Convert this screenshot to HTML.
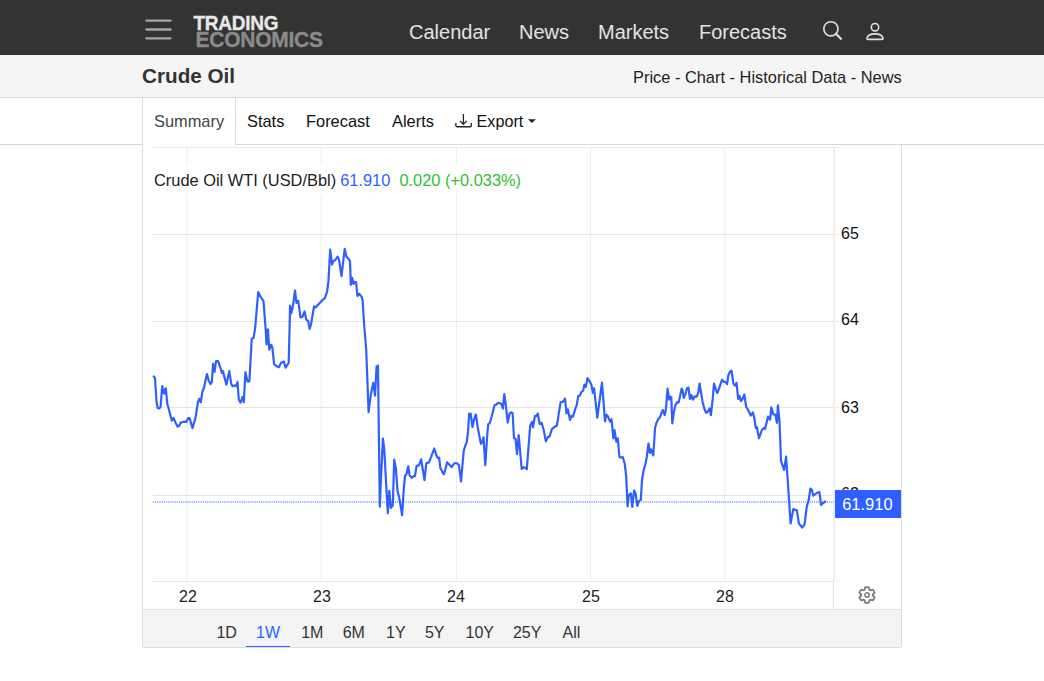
<!DOCTYPE html>
<html><head><meta charset="utf-8"><title>Crude Oil</title>
<style>
*{box-sizing:border-box}
html,body{margin:0;padding:0}
body{width:1044px;height:681px;overflow:hidden;background:#fff;position:relative;font-family:"Liberation Sans",Arial,sans-serif;color:#333}
.a{position:absolute;white-space:nowrap}
#hdr{left:0;top:0;width:1044px;height:55px;background:#333}
.nav{top:20px;font-size:20px;line-height:24px;color:#e3e3e3}
#sub{left:0;top:55px;width:1044px;height:43px;background:#f5f5f5;border-bottom:1px solid #d5d5d5}
.tab{top:111px;font-size:16.4px;line-height:20px;color:#111}
.rng{top:623.4px;font-size:16px;line-height:20px;color:#333}
.yl{left:841px;font-size:16px;line-height:20px;color:#111}
.leg{top:170px;font-size:16.4px;line-height:20px}
.xl{top:587px;font-size:16px;line-height:20px;color:#222}
</style></head><body>
<div class="a" id="hdr"></div>
<svg class="a" style="left:140px;top:14px" width="40" height="30" viewBox="0 0 40 30"><g stroke="#a5a5a5" stroke-width="2.3" stroke-linecap="round"><line x1="6.4" y1="6.6" x2="30.6" y2="6.6"/><line x1="6.4" y1="15.5" x2="30.6" y2="15.5"/><line x1="6.4" y1="24.3" x2="30.6" y2="24.3"/></g></svg>
<div class="a" style="left:193.5px;top:12px;font-size:19px;line-height:20px;font-weight:bold;color:#e8e8e8;-webkit-text-stroke:0.35px #e8e8e8;letter-spacing:-0.25px;transform:scaleY(1.1);transform-origin:0 0">TRADING</div>
<div class="a" style="left:195.5px;top:27px;font-size:21px;line-height:24px;font-weight:bold;color:#8a8a8a;-webkit-text-stroke:0.35px #8a8a8a;letter-spacing:-0.25px;transform:scaleY(1.05);transform-origin:0 0">ECONOMICS</div>
<div class="a nav" style="left:409px">Calendar</div>
<div class="a nav" style="left:519px">News</div>
<div class="a nav" style="left:598px">Markets</div>
<div class="a nav" style="left:699px">Forecasts</div>
<svg class="a" style="left:818px;top:16px" width="30" height="30" viewBox="0 0 30 30"><circle cx="12.9" cy="12.8" r="7.1" fill="none" stroke="#e0e0e0" stroke-width="1.6"/><line x1="17.9" y1="17.8" x2="22.9" y2="22.8" stroke="#e0e0e0" stroke-width="2.2" stroke-linecap="round"/></svg>
<svg class="a" style="left:862px;top:16px" width="26" height="30" viewBox="0 0 26 30"><circle cx="13" cy="11.2" r="3.7" fill="none" stroke="#e0e0e0" stroke-width="1.6"/><path d="M5,22.1 C5.6,19.5 9,17.9 13,17.9 C17,17.9 20.4,19.5 21,22.1 Q21.3,23.4 19.9,23.4 H6.1 Q4.7,23.4 5,22.1 Z" fill="none" stroke="#e0e0e0" stroke-width="1.6" stroke-linejoin="round"/></svg>
<div class="a" id="sub"></div>
<div class="a" style="left:142px;top:64px;font-size:20.7px;line-height:24px;font-weight:bold;color:#333">Crude Oil</div>
<div class="a" style="left:633px;top:66.8px;font-size:16.4px;line-height:20px;color:#222">Price - Chart - Historical Data - News</div>
<!-- tab row borders -->
<div class="a" style="left:0;top:144px;width:143px;height:1px;background:#d8d8d8"></div>
<div class="a" style="left:235px;top:144px;width:809px;height:1px;background:#d8d8d8"></div>
<div class="a" style="left:142px;top:98px;width:1px;height:511px;background:#dcdcdc"></div>
<div class="a" style="left:235px;top:98px;width:1px;height:47px;background:#dcdcdc"></div>
<div class="a" style="left:901px;top:144px;width:1px;height:465px;background:#dcdcdc"></div>
<div class="a tab" style="left:154px;color:#444">Summary</div>
<div class="a tab" style="left:247px">Stats</div>
<div class="a tab" style="left:306px">Forecast</div>
<div class="a tab" style="left:392px">Alerts</div>
<svg class="a" style="left:454px;top:112px" width="20" height="18" viewBox="0 0 20 18"><path d="M9.4,2 V12.3 M6,8.9 L9.4,12.4 L12.8,8.9" fill="none" stroke="#222" stroke-width="1.3"/><path d="M1.85,11.1 V13.4 Q1.85,14.75 3.2,14.75 H16 Q17.35,14.75 17.35,13.4 V11.1" fill="none" stroke="#222" stroke-width="1.3"/></svg>
<div class="a tab" style="left:476.5px;top:111.4px;font-size:16.2px">Export</div>
<svg class="a" style="left:528px;top:119px" width="8" height="5" viewBox="0 0 8 5"><path d="M0,0.2 H7.8 L3.9,3.9 Z" fill="#222"/></svg>
<!-- chart -->
<svg class="a" style="left:0;top:0" width="1044" height="681" viewBox="0 0 1044 681">
<g shape-rendering="crispEdges">
<line x1="153" y1="147.5" x2="839" y2="147.5" stroke="#e9e9e9" stroke-width="1"/>
<g stroke="#e9eff3" stroke-width="1" shape-rendering="auto">
<line x1="187" y1="148" x2="187" y2="581"/>
<line x1="321.1" y1="148" x2="321.1" y2="581"/>
<line x1="456.5" y1="148" x2="456.5" y2="581"/>
<line x1="590.6" y1="148" x2="590.6" y2="581"/>
<line x1="724.8" y1="148" x2="724.8" y2="581"/>
</g>
<g stroke="#e6e6e6" stroke-width="1">
<line x1="153" y1="234.5" x2="839" y2="234.5"/>
<line x1="153" y1="321.5" x2="839" y2="321.5"/>
<line x1="153" y1="407.5" x2="839" y2="407.5"/>
<line x1="153" y1="495.5" x2="839" y2="495.5"/>
<line x1="153" y1="581.5" x2="833" y2="581.5"/>
</g>
<rect x="833" y="147" width="2" height="434" fill="#efefef"/>
<rect x="833" y="581" width="1" height="28" fill="#e2e2e2"/>
<line x1="834" y1="580.5" x2="839" y2="580.5" stroke="#f0f0f0"/>
<g>
</g>
</g>
<line x1="153" y1="502" x2="834" y2="502" stroke="#6f93ff" stroke-width="1.4" stroke-dasharray="1.08,1.08"/>
<path d="M153.7,376.4 L155.0,378.0 L156.6,402.8 L157.7,408.0 L159.2,408.5 L160.6,407.0 L162.2,386.0 L163.2,393.0 L164.3,389.6 L164.8,393.6 L165.9,388.3 L167.2,403.5 L168.5,408.0 L171.8,420.7 L173.5,418.0 L175.8,423.3 L177.7,426.6 L179.0,426.0 L181.0,422.4 L183.0,422.0 L184.6,421.6 L186.3,422.0 L188.3,418.0 L189.6,418.0 L192.5,428.2 L195.6,417.4 L197.8,402.8 L199.1,398.9 L200.9,402.2 L202.2,392.3 L204.2,387.0 L205.2,381.7 L207.0,374.0 L208.8,381.0 L210.5,384.0 L211.8,382.4 L213.1,363.9 L214.5,371.8 L216.0,361.2 L218.0,361.2 L220.0,366.5 L222.0,373.1 L222.9,371.1 L226.4,384.6 L229.3,371.1 L231.2,383.7 L232.6,386.3 L234.5,385.4 L236.1,386.3 L237.5,382.0 L238.8,399.5 L240.5,402.6 L242.5,397.0 L243.8,402.2 L245.4,372.2 L247.5,381.4 L249.4,381.3 L251.7,339.0 L253.5,338.1 L255.2,327.6 L258.2,292.0 L260.5,296.7 L263.5,301.1 L265.8,331.1 L266.5,344.3 L267.9,329.3 L269.3,349.6 L271.1,344.8 L272.3,347.0 L274.1,364.2 L276.7,366.3 L278.8,367.2 L281.1,362.8 L283.8,361.4 L285.5,367.6 L288.7,362.8 L290.1,305.6 L291.2,313.5 L292.9,306.1 L295.0,290.6 L296.5,302.9 L298.2,300.8 L300.5,317.4 L302.3,317.0 L304.6,311.4 L306.3,319.6 L308.1,320.9 L309.7,329.0 L311.1,323.7 L314.1,306.4 L315.8,307.3 L319.0,303.8 L322.6,299.9 L324.9,298.1 L327.0,292.0 L328.5,280.5 L330.2,249.7 L332.0,264.7 L333.2,261.1 L335.0,260.3 L337.6,256.7 L339.0,259.4 L341.5,276.1 L344.7,248.8 L346.4,256.7 L348.2,258.5 L350.0,261.1 L350.8,284.9 L352.1,277.9 L353.5,284.0 L354.5,281.9 L356.1,282.3 L357.4,296.0 L359.1,293.7 L361.4,296.4 L362.6,299.9 L364.0,322.8 L366.2,349.3 L368.6,412.2 L371.0,393.4 L373.3,382.8 L375.0,395.7 L376.6,366.4 L378.0,365.7 L379.8,506.6 L380.9,480.2 L382.9,438.6 L384.2,448.5 L385.8,477.6 L387.8,513.2 L389.3,490.8 L390.9,507.9 L392.8,505.3 L394.2,459.7 L395.9,468.3 L397.5,490.8 L399.4,498.7 L402.1,515.2 L403.8,488.1 L405.1,475.6 L406.4,474.3 L408.3,466.3 L409.6,475.6 L411.7,477.8 L413.6,476.2 L414.9,476.2 L416.6,465.9 L418.9,465.4 L421.2,459.3 L422.8,469.6 L424.5,480.2 L426.3,463.3 L428.9,462.4 L431.1,457.1 L434.2,448.5 L436.4,455.1 L437.4,457.7 L439.1,457.7 L440.4,468.3 L443.7,474.3 L445.0,471.0 L447.0,462.4 L449.0,464.3 L451.6,467.0 L454.0,463.7 L455.6,463.0 L457.6,463.7 L458.9,465.0 L461.1,481.5 L462.5,464.3 L463.8,450.5 L465.5,445.2 L466.8,441.9 L468.1,431.4 L469.1,413.8 L470.6,413.5 L472.5,427.0 L474.0,419.6 L475.9,414.5 L477.9,428.5 L480.9,443.9 L482.3,441.7 L483.5,437.3 L485.3,465.2 L487.2,435.8 L488.2,424.1 L489.7,423.3 L491.6,416.7 L494.5,405.3 L496.0,404.7 L498.2,402.8 L499.9,403.2 L501.4,404.2 L502.9,408.6 L504.3,394.0 L505.8,405.0 L507.7,422.6 L509.6,413.5 L511.1,412.3 L512.6,413.0 L514.0,438.0 L515.5,438.7 L517.0,454.2 L518.7,435.1 L521.7,468.8 L523.4,467.4 L525.3,467.8 L526.8,469.3 L530.2,425.5 L532.0,421.9 L533.0,427.3 L534.9,416.0 L536.4,416.0 L537.8,413.5 L539.7,424.1 L541.5,422.6 L543.7,429.9 L545.9,441.4 L547.8,437.3 L549.6,436.5 L551.8,429.2 L554.0,427.3 L556.9,425.5 L558.7,414.1 L560.6,402.3 L563.1,401.6 L565.0,398.6 L566.5,413.3 L567.9,409.4 L570.0,419.9 L571.4,415.8 L572.9,416.7 L575.3,408.9 L576.7,405.2 L578.2,396.1 L579.7,395.7 L581.4,392.0 L583.2,390.6 L584.4,384.7 L585.8,386.9 L587.6,378.1 L589.5,381.0 L591.4,384.7 L592.9,392.8 L594.1,388.4 L597.3,417.7 L602.0,382.5 L605.0,421.4 L606.4,414.8 L607.9,416.3 L610.1,421.7 L611.5,419.2 L613.4,438.3 L614.5,430.2 L616.4,441.7 L617.8,438.3 L619.4,457.0 L621.2,457.6 L622.7,457.0 L624.7,463.5 L626.2,476.4 L627.6,506.4 L628.8,495.2 L630.0,494.0 L630.9,493.5 L632.3,507.0 L634.1,490.5 L635.6,493.5 L637.3,505.8 L638.8,501.1 L640.8,499.9 L642.0,480.0 L643.5,470.6 L645.3,464.7 L646.7,457.6 L648.5,443.5 L650.0,452.9 L651.1,449.4 L652.3,452.3 L653.3,455.4 L655.1,427.5 L656.6,422.4 L658.5,418.7 L660.0,417.3 L661.5,412.9 L662.9,409.9 L664.7,415.1 L665.9,409.2 L667.6,388.6 L669.1,399.6 L670.3,396.7 L671.3,397.4 L672.3,423.4 L673.8,412.9 L675.3,405.5 L677.2,401.9 L678.6,402.6 L680.1,396.0 L681.6,388.6 L682.6,390.1 L683.8,397.9 L685.5,393.8 L687.0,388.2 L688.5,387.6 L689.9,398.9 L691.4,395.0 L692.9,399.6 L694.8,396.4 L696.7,396.7 L698.2,393.0 L699.6,383.5 L702.6,401.9 L704.3,408.5 L706.1,412.9 L708.0,411.4 L709.5,408.5 L710.9,415.1 L712.8,398.2 L714.0,383.5 L715.8,389.4 L717.3,393.0 L719.0,388.6 L722.0,379.8 L724.2,382.0 L725.6,382.0 L727.1,384.2 L728.3,375.4 L730.0,371.7 L731.5,370.6 L733.4,383.5 L734.9,385.7 L736.6,382.8 L738.1,398.9 L739.6,396.0 L741.0,401.1 L742.5,398.9 L744.3,394.5 L746.2,407.0 L747.7,409.2 L750.8,415.6 L752.8,412.5 L754.3,417.6 L755.7,427.9 L756.9,426.9 L759.0,438.2 L761.9,430.0 L763.9,427.9 L765.1,428.9 L768.0,416.6 L770.1,419.7 L771.3,407.3 L773.4,414.5 L775.4,414.5 L776.9,422.8 L777.9,405.3 L779.5,421.7 L781.0,460.8 L784.1,470.0 L786.1,456.7 L788.2,487.5 L790.6,523.5 L793.3,509.1 L795.4,510.1 L796.8,510.1 L798.9,523.5 L802.2,527.6 L804.6,524.1 L806.7,507.0 L808.7,499.9 L810.4,488.5 L811.8,489.6 L813.3,495.7 L815.9,493.7 L817.4,492.7 L819.4,492.0 L821.1,505.0 L823.1,503.0 L825.2,501.5" fill="none" stroke="#2e60ff" stroke-width="2.2" stroke-linejoin="round" stroke-linecap="round"/>
</svg>
<div class="a" style="left:150px;top:164px;width:378px;height:30px;background:rgba(255,255,255,0.8)"></div>
<div class="a leg" style="left:154px;color:#222">Crude Oil WTI (USD/Bbl)</div>
<div class="a leg" style="left:340.2px;color:#2f62ff">61.910</div>
<div class="a leg" style="left:399.4px;color:#2fbf2f">0.020 (+0.033%)</div>
<div class="a yl" style="top:224px">65</div>
<div class="a yl" style="top:310px">64</div>
<div class="a yl" style="top:398px">63</div>
<div class="a yl" style="top:484px">62</div>
<div class="a" style="left:835px;top:490px;width:66px;height:28px;background:#2e60ff;color:#fff;font-size:16.5px;line-height:28px;text-align:center;padding-right:1.2px">61.910</div>
<div class="a xl" style="left:179px">22</div>
<div class="a xl" style="left:313px">23</div>
<div class="a xl" style="left:447px">24</div>
<div class="a xl" style="left:582px">25</div>
<div class="a xl" style="left:716px">28</div>
<svg class="a" style="left:856.7px;top:584.9px" width="20" height="20" viewBox="0 0 20 20"><path d="M12.41,4.83 L11.91,2.33 A7.9,7.9 0 0 0 8.09,2.33 L7.59,4.83 A5.7,5.7 0 0 0 6.73,5.33 L4.32,4.51 A7.9,7.9 0 0 0 2.41,7.82 L4.32,9.50 A5.7,5.7 0 0 0 4.32,10.50 L2.41,12.18 A7.9,7.9 0 0 0 4.32,15.49 L6.73,14.67 A5.7,5.7 0 0 0 7.59,15.17 L8.09,17.67 A7.9,7.9 0 0 0 11.91,17.67 L12.41,15.17 A5.7,5.7 0 0 0 13.27,14.67 L15.68,15.49 A7.9,7.9 0 0 0 17.59,12.18 L15.68,10.50 A5.7,5.7 0 0 0 15.68,9.50 L17.59,7.82 A7.9,7.9 0 0 0 15.68,4.51 L13.27,5.33 A5.7,5.7 0 0 0 12.41,4.83 Z" fill="none" stroke="#777" stroke-width="1.7" stroke-linejoin="round"/><circle cx="10" cy="10" r="2.15" fill="none" stroke="#777" stroke-width="1.5"/></svg>
<!-- range bar -->
<div class="a" style="left:142px;top:609px;width:760px;height:39px;background:#f4f4f4;border:1px solid #dcdcdc;border-top-color:#e3e3e3;border-bottom-color:#dadddf;border-radius:0 0 3px 3px"></div>
<div class="a" style="left:144px;top:646px;width:756px;height:1px;background:#f8f8f8"></div>
<div class="a rng" style="left:216.4px">1D</div>
<div class="a rng" style="left:256px;color:#2f5fff">1W</div>
<div class="a" style="left:246px;top:646px;width:44px;height:1px;background:#2f5fff"></div>
<div class="a rng" style="left:301.2px">1M</div>
<div class="a rng" style="left:342.7px">6M</div>
<div class="a rng" style="left:386px">1Y</div>
<div class="a rng" style="left:424.9px">5Y</div>
<div class="a rng" style="left:465.5px">10Y</div>
<div class="a rng" style="left:512.9px">25Y</div>
<div class="a rng" style="left:562.6px">All</div>
</body></html>
